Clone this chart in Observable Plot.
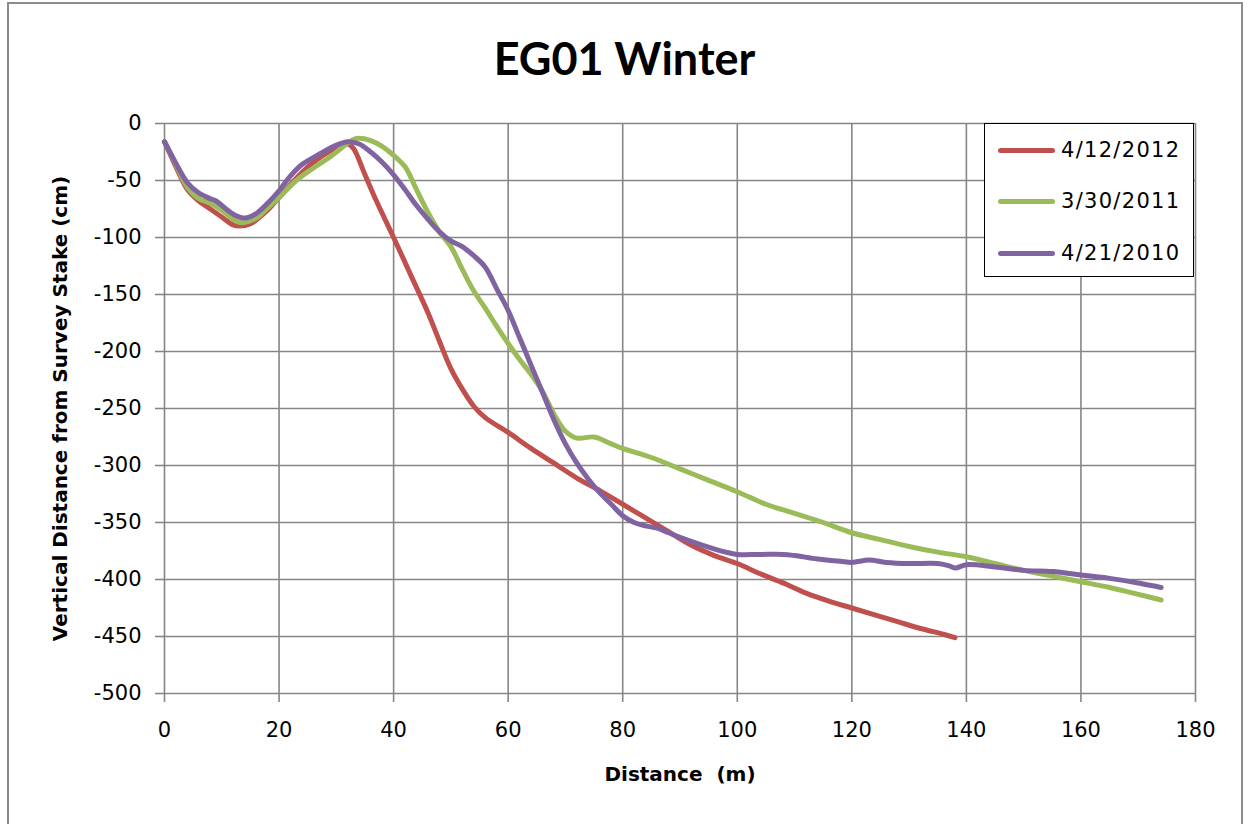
<!DOCTYPE html>
<html>
<head>
<meta charset="utf-8">
<script src="https://cdn.jsdelivr.net/npm/d3@7"></script>
<script src="https://cdn.jsdelivr.net/npm/@observablehq/plot@0.6"></script>
<style>
  body { margin: 0; background: #fff; }
  #wrap { position: relative; width: 1249px; height: 824px; overflow: hidden; background: #fff; }
  #frame { position: absolute; left: 7px; top: 2px; width: 1236px; height: 900px; border: 2px solid #8c8c8c; box-sizing: border-box; }
  #title { position: relative; height: 100px; text-align: center; font-family: Lato, "Open Sans", sans-serif; font-weight: bold; font-size: 45px; line-height: 100px; padding-top: 8px; box-sizing: border-box; color: #000; }
  #legend { position: absolute; left: 984px; top: 123px; width: 210px; height: 154px; border: 1.5px solid #000; box-sizing: border-box; background: #fff; font-family: "DejaVu Sans", sans-serif; font-size: 21px; letter-spacing: 1.3px; }
  .item { position: absolute; left: 13px; height: 24px; display: flex; align-items: center; }
  .swatch { width: 57px; height: 5px; border-radius: 3px; margin-right: 6px; }
  #chart svg g[aria-label="y-axis label"] text, #chart svg g[aria-label="x-axis label"] text { font-weight: bold; font-size: 20px; }
</style>
</head>
<body>
<div id="wrap">
  <div id="frame"></div>
  <div id="title">EG01 Winter</div>
  <div id="chart"></div>
  <div id="legend"></div>
</div>
<script>
// ---- data ----
const seriesNames = ["4/12/2012", "3/30/2011", "4/21/2010"];
const seriesColors = ["#C0504D", "#9BBB59", "#8064A2"];

const dist2012 = [0, 2, 4, 6, 8, 10, 12, 13, 15, 18, 20, 23, 26, 29, 32, 33, 35, 37, 40, 43, 46, 48, 50, 52, 54, 56, 60, 64, 68, 72, 76, 80, 84, 88, 92, 96, 100, 104, 108, 112, 116, 120, 124, 128, 132, 136, 138];
const val2012  = [-16, -38, -58, -68, -75, -82, -89, -90, -88, -76, -65, -48, -34, -24, -18, -22, -45, -68, -100, -133, -166, -191, -215, -233, -248, -258, -271, -285, -298, -311, -322, -334, -346, -358, -370, -379, -386, -395, -403, -412, -419, -425, -431, -437, -443, -448, -451];

const dist2011 = [0, 2, 4, 6, 8, 10, 12, 13.5, 16, 18, 20, 23, 26, 29, 31, 33, 34, 36, 38, 40, 42, 44, 46, 48, 50, 52, 54, 56, 58, 60, 62, 64, 66, 68, 70, 72, 75, 78, 80, 85, 90, 95, 100, 105, 110, 115, 120, 125, 130, 135, 140, 145, 150, 155, 160, 165, 170, 174];
const val2011  = [-16, -36, -56, -66, -70, -76, -84, -87, -83, -74, -65, -50, -39, -29, -21, -14, -13, -15, -20, -28, -38, -58, -78, -95, -108, -128, -147, -162, -178, -193, -207, -220, -235, -255, -270, -276, -275, -281, -285, -293, -303, -313, -323, -334, -342, -350, -359, -365, -371, -376, -380, -386, -392, -397, -402, -407, -413, -418];

const dist2010 = [0, 2, 4, 6, 8, 9, 11, 12.5, 14, 16, 18, 20, 22, 24, 27, 30, 32, 34, 36, 38, 40, 42, 44, 46, 48, 50, 52, 54, 56, 58, 60, 62, 64, 66, 68, 70, 72, 74, 76, 78, 80, 82, 84, 86, 88, 90, 94, 98, 100, 104, 108, 110, 114, 118, 120, 123, 126, 130, 135, 137, 138, 140, 145, 150, 155, 160, 165, 170, 174];
const val2010  = [-16, -35, -52, -61, -66, -68, -76, -81, -83, -79, -70, -59, -46, -36, -27, -19, -16, -18, -25, -34, -45, -58, -72, -84, -95, -103, -108, -116, -126, -145, -164, -188, -212, -236, -260, -281, -298, -312, -324, -334, -344, -350, -353, -355, -359, -363, -370, -376, -378, -378, -378, -379, -382, -384, -385, -383, -385, -386, -386, -388, -390, -387, -389, -392, -393, -396, -399, -403, -407];

const xTicks = [0, 20, 40, 60, 80, 100, 120, 140, 160, 180];
const yTicks = [0, -50, -100, -150, -200, -250, -300, -350, -400, -450, -500];

// ---- build table ----
const sets = [[dist2012, val2012], [dist2011, val2011], [dist2010, val2010]];
const rows = [];
sets.forEach(([ds, vs], i) => ds.forEach((d, j) => rows.push({series: seriesNames[i], d, v: vs[j]})));

const grid = "#868686";
const chart = Plot.plot({
  width: 1249,
  height: 724,
  marginTop: 23,
  marginBottom: 131,
  marginLeft: 164,
  marginRight: 54,
  style: {fontFamily: "'DejaVu Sans', sans-serif", fontSize: "21px", color: "#000", background: "transparent", overflow: "visible"},
  x: {domain: [0, 180]},
  y: {domain: [-500, 0]},
  color: {domain: seriesNames, range: seriesColors},
  marks: [
    Plot.gridX(xTicks, {stroke: grid, strokeOpacity: 1, strokeWidth: 1.6}),
    Plot.gridY(yTicks, {stroke: grid, strokeOpacity: 1, strokeWidth: 1.6}),
    Plot.axisX(xTicks, {tickSize: 9, tickPadding: 20, stroke: grid, strokeWidth: 1.6, tickFormat: d => String(d),
      label: "Distance  (m)", labelAnchor: "center", labelArrow: "none", labelOffset: 87}),
    Plot.axisY(yTicks, {tickSize: 9, tickPadding: 14, stroke: grid, strokeWidth: 1.6, tickFormat: d => String(d),
      label: "Vertical Distance from Survey Stake (cm)", labelAnchor: "center", labelArrow: "none", labelOffset: 112}),
    Plot.line(rows, {x: "d", y: "v", z: "series", stroke: "series", strokeWidth: 5, curve: "catmull-rom", strokeLinecap: "round", strokeLinejoin: "round"})
  ]
});
document.getElementById("chart").appendChild(chart);

// ---- legend ----
const legend = document.getElementById("legend");
const tops = [14, 65, 117];
seriesNames.forEach((name, i) => {
  const it = document.createElement("div");
  it.className = "item";
  it.style.top = tops[i] + "px";
  it.innerHTML = `<div class="swatch" style="background:${seriesColors[i]}"></div><span>${name}</span>`;
  legend.appendChild(it);
});
</script>
</body>
</html>
